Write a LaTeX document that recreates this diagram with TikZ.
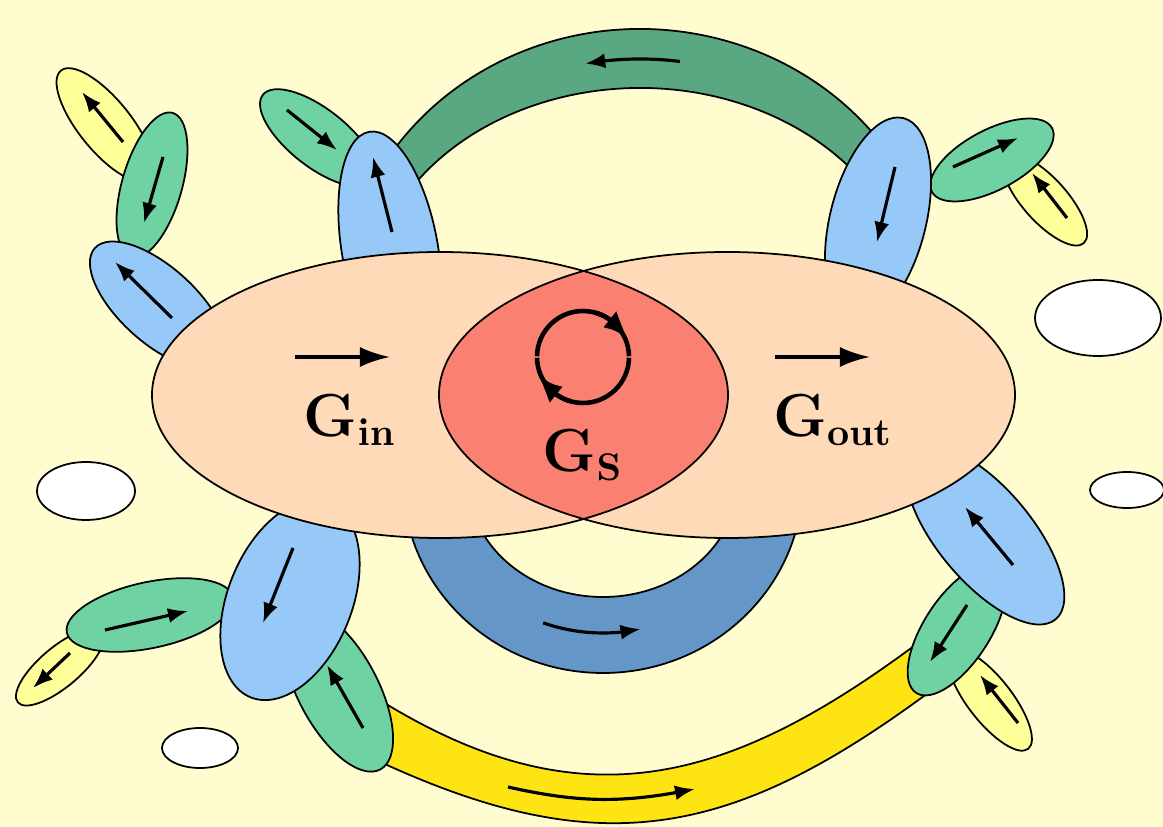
\documentclass[tikz,border=0pt]{standalone}
\usepackage{amsmath}
\usepackage{xcolor}
\usepackage{tikz}
\usetikzlibrary{arrows.meta, bending, calc}

\definecolor{bgcream}{HTML}{FFFDD0}
\definecolor{peach}{HTML}{FFDAB9}
\definecolor{lensred}{HTML}{FA8072}
\definecolor{petalblue}{HTML}{96C8F8}
\definecolor{petalgreen}{HTML}{6ED2A2}
\definecolor{petalyellow}{HTML}{FFFF99}
\definecolor{bandgreen}{HTML}{5AA882}
\definecolor{bandblue}{HTML}{6497C8}
\definecolor{bandyellow}{HTML}{FFE414}

\begin{document}
\begin{tikzpicture}[
        x=0.01cm, y=0.01cm,
        line width=0.5pt,
        petal/.style={draw, line width=0.5pt},
        bluepetal/.style={petal, fill=petalblue},
        greenpetal/.style={petal, fill=petalgreen},
        yellowpetal/.style={petal, fill=petalyellow},
        hole/.style={petal, fill=white},
        band/.style={draw, line width=0.5pt},
        arrow/.style={-{Latex[length=2mm, width=1.5mm]}, line width=0.9pt},
        bigarrow/.style={-{Latex[length=3mm, width=2mm]}, line width=1pt},
        cycarrow/.style={line width=1.3pt},
        glabel/.style={font=\fontsize{16}{19}\selectfont}
        ]

        \useasboundingbox (0,0) rectangle (1163,827);
        \fill[bgcream] (0,0) rectangle (1163,827);

        % bands
        \coordinate (topband) at (640,516);
        \filldraw[band, fill=bandgreen] (topband) ++(28:300 and 282)
            arc[start angle=28, end angle=152, x radius=300, y radius=282]
            -- ($(topband)+(152:274 and 223)$)
            arc[start angle=152, end angle=28, x radius=274, y radius=223] -- cycle;
        \draw[arrow] (topband) ++(82:287 and 252)
            arc[start angle=82, end angle=101, x radius=287, y radius=252];

        \coordinate (midband) at (603,347);
        \filldraw[band, fill=bandblue] (midband) ++(180:200 and 193)
            arc[start angle=180, end angle=360, x radius=200, y radius=193]
            -- ($(midband)+(0:135 and 117)$)
            arc[start angle=360, end angle=180, x radius=135, y radius=117] -- cycle;
        \draw[arrow] (midband) ++(249:167 and 153)
            arc[start angle=249, end angle=283, x radius=167, y radius=153];

        \filldraw[band, fill=bandyellow] (374,68) .. controls (598,-37) and (730,-12) .. (928,134)
            -- (922,187) .. controls (730,43) and (582,1) .. (378,128) -- cycle;
        \draw[arrow] (508,40) to[bend right=12] (695,38);

        % petals, top left
        \filldraw[yellowpetal, rotate around={-51:(105,702)}] (105,702) ellipse (70 and 26);
        \draw[arrow] (123,685) -- (82,735);
        \filldraw[greenpetal, rotate around={74:(152,642)}] (152,642) ellipse (75 and 30);
        \draw[arrow] (163,670) -- (144,604);
        \filldraw[bluepetal, rotate around={-42:(158,522)}] (158,522) ellipse (85 and 38);
        \draw[arrow] (172,509) -- (115,565);

        \filldraw[greenpetal, rotate around={-38:(318,689)}] (318,689) ellipse (70 and 29);
        \draw[arrow] (287,717) -- (337,677);
        \filldraw[bluepetal, rotate around={100:(390,577)}] (390,577) ellipse (120 and 48);
        \draw[arrow] (392,595) -- (373,670);

        % petals, top right
        \filldraw[yellowpetal, rotate around={-48:(1045,627)}] (1045,627) ellipse (58 and 22);
        \draw[arrow] (1067,609) -- (1032,654);
        \filldraw[greenpetal, rotate around={28:(992,667)}] (992,667) ellipse (68 and 30);
        \draw[arrow] (953,660) -- (1018,689);
        \filldraw[bluepetal, rotate around={76:(878,607)}] (878,607) ellipse (105 and 48);
        \draw[arrow] (895,660) -- (877,585);

        % petals, bottom left
        \filldraw[yellowpetal, rotate around={40:(60,160)}] (60,160) ellipse (55 and 20);
        \draw[arrow] (70,174) -- (33,139);
        \filldraw[greenpetal, rotate around={12:(150,212)}] (150,212) ellipse (85 and 33);
        \draw[arrow] (105,197) -- (188,216);
        \filldraw[greenpetal, rotate around={118:(338,137)}] (338,137) ellipse (90 and 40);
        \draw[arrow] (363,99) -- (327,162);
        \filldraw[bluepetal, rotate around={68:(290,227)}] (290,227) ellipse (105 and 62);
        \draw[arrow] (293,279) -- (263,204);

        % petals, bottom right
        \filldraw[yellowpetal, rotate around={128:(990,127)}] (990,127) ellipse (62 and 22);
        \draw[arrow] (1018,104) -- (980,152);
        \filldraw[greenpetal, rotate around={57:(957,197)}] (957,197) ellipse (75 and 33);
        \draw[arrow] (967,222) -- (930,165);
        \filldraw[bluepetal, rotate around={130:(985,292)}] (985,292) ellipse (110 and 47);
        \draw[arrow] (1013,262) -- (965,320);

        % holes
        \filldraw[hole] (1098,509) ellipse (63 and 38);
        \filldraw[hole] (86,336) ellipse (49 and 29);
        \filldraw[hole] (200,79) ellipse (38 and 20);
        \filldraw[hole] (1127,337) ellipse (37 and 18);

        % in, out and the shared part
        \fill[peach] (440,432) ellipse (288 and 143);
        \fill[peach] (727,432) ellipse (288 and 143);
        \begin{scope}
            \clip (440,432) ellipse (288 and 143);
            \fill[lensred] (727,432) ellipse (288 and 143);
        \end{scope}
        \draw (440,432) ellipse (288 and 143);
        \draw (727,432) ellipse (288 and 143);

        \draw[bigarrow] (295,470) -- (390,470);
        \draw[bigarrow] (775,470) -- (870,470);

        \coordinate (cyc) at (583,470);
        \draw[cycarrow] (cyc) ++(179:46) arc[start angle=179, end angle=1, radius=46];
        \draw[cycarrow] (cyc) ++(359:46) arc[start angle=359, end angle=181, radius=46];
        \draw[cycarrow, -{Latex[length=2.6mm, width=2.1mm, bend]}] (cyc) ++(75:46)
            arc[start angle=75, end angle=22, radius=46];
        \draw[cycarrow, -{Latex[length=2.6mm, width=2.1mm, bend]}] (cyc) ++(255:46)
            arc[start angle=255, end angle=202, radius=46];

        \node[glabel] (gin) at (350,407) {$\mathbf{G_{in}}$};
        \node[glabel] (gs) at (583,372) {$\mathbf{G_S}$};
        \node[glabel] (gout) at (833,407) {$\mathbf{G_{out}}$};
\end{tikzpicture}
\end{document}
